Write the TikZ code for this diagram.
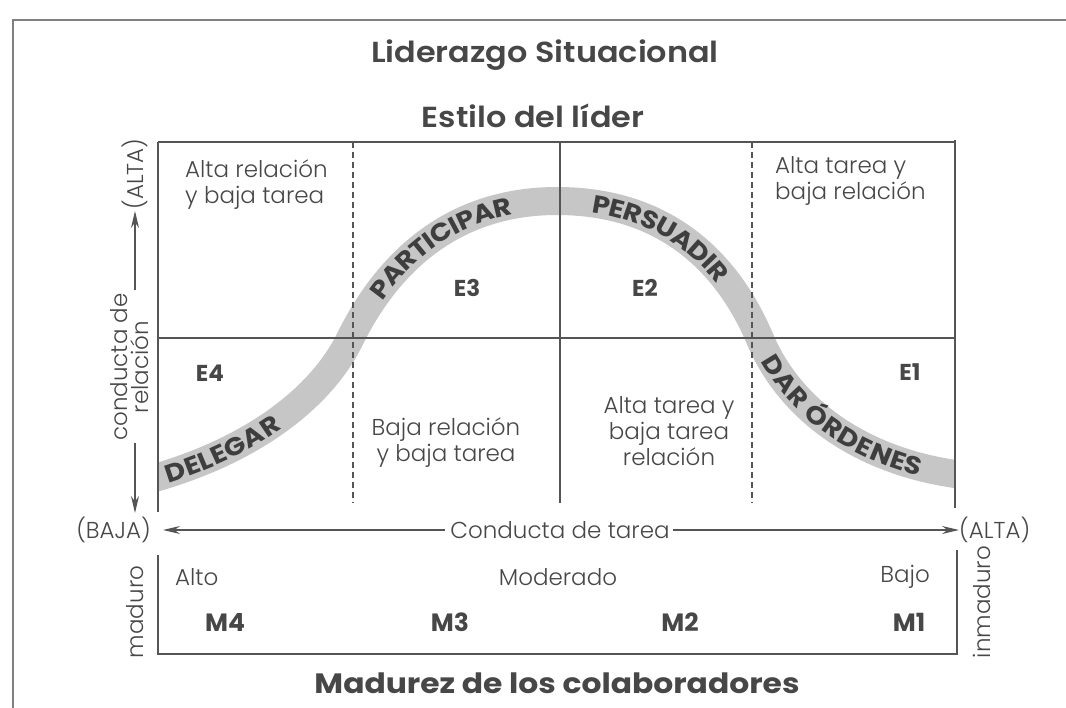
\documentclass[tikz,border=0pt]{standalone}
\usepackage{fontspec}
\usetikzlibrary{arrows.meta,decorations.text}
\IfFontExistsTF{Poppins Light}{\newfontfamily\bodyf{Poppins Light}}{\newfontfamily\bodyf{Poppins}}
\IfFontExistsTF{Poppins SemiBold}{\newfontfamily\semif{Poppins SemiBold}[FakeStretch=1.1]}{\newfontfamily\semif{Poppins}[FakeBold=1.5,FakeStretch=1.1]}
\IfFontExistsTF{Poppins Bold}{\newfontfamily\heavyf{Poppins Bold}}{\newfontfamily\heavyf{Poppins}[FakeBold=2.5]}
\IfFontExistsTF{Poppins Bold}{\newfontfamily\widef{Poppins Bold}[FakeStretch=1.12]}{\newfontfamily\widef{Poppins}[FakeBold=2.5,FakeStretch=1.12]}
\definecolor{ink}{HTML}{474747}
\definecolor{curveink}{HTML}{3E3E3E}
\definecolor{bandgray}{HTML}{C6C6C6}
\definecolor{rulegray}{HTML}{555555}
\tikzset{
  body/.style={font=\bodyf\fontsize{23}{26}\selectfont, text=ink, inner sep=0pt},
  head/.style={font=\semif\fontsize{29}{32}\selectfont, text=ink, inner sep=0pt},
  heavyhead/.style={font=\widef\fontsize{28}{30}\selectfont, text=ink, inner sep=0pt},
  elab/.style={font=\heavyf\fontsize{23}{26}\selectfont, text=ink, inner sep=0pt},
  mlab/.style={font=\heavyf\fontsize{25}{26}\selectfont, text=ink, inner sep=0pt},
  gridline/.style={draw=rulegray, line width=1.6pt},
  dashline/.style={draw=rulegray, line width=2pt, dash pattern=on 6pt off 4pt},
  frameline/.style={draw=gray, line width=1.2pt},
  axarrow/.style={draw=rulegray, line width=1.4pt, -{Stealth[length=17pt,width=8pt]}},
  curvetext/.style={decorate, decoration={text along path, raise=-9pt,
      text align={left, left indent=#1}}},
}
\newcommand{\cfmt}{|\widef\fontsize{25}{25}\selectfont\color{curveink}|}
\begin{document}
\begin{tikzpicture}[x=1pt,y=-1pt]
\useasboundingbox (0,0) rectangle (1066,708);
\fill[white] (0,0) rectangle (1066,708);
% outer frame
\coordinate (fTL) at (13,20);
\coordinate (fTR) at (1066,20);
\coordinate (fBL) at (13,708);
\draw[frameline] (fTR) -- (fTL) -- (fBL);

% titles
\node[head, anchor=base] (title) at (545,63) {Liderazgo Situacional};
\node[head, anchor=base] (estilo) at (533,128) {Estilo del líder};
\node[heavyhead, anchor=base] (madurez) at (557,693) {Madurez de los colaboradores};

% curve band
\coordinate (c0) at (158,477);
\coordinate (c1) at (350,339);
\coordinate (c2) at (557,201);
\coordinate (c3) at (760,339);
\coordinate (c4) at (955,474);
\coordinate (e0) at (130,485);
\coordinate (e4) at (983,478);
\begin{scope}
  \clip (158,0) rectangle (955,708);
  \draw[bandgray, line width=28pt] (e0) -- (c0) .. controls (250,450) and (320,400) .. (c1)
     .. controls (380,278) and (440,201) .. (c2)
     .. controls (680,201) and (735,280) .. (c3)
     .. controls (790,410) and (860,460) .. (c4) -- (e4);
\end{scope}

% grid
\draw[gridline] (158,142) -- (955,142);
\draw[gridline] (158,338) -- (955,338);
\draw[gridline] (158,142) -- (158,512);
\draw[gridline] (955,140) -- (955,508);
\draw[gridline] (560,142) -- (560,503);
\draw[dashline] (353,142) -- (353,503);
\draw[dashline] (752,142) -- (752,503);

% curve labels
\path[curvetext=8pt, decoration={text={\cfmt DELEGAR}}] (c0) .. controls (250,450) and (320,400) .. (c1);
\path[curvetext=50pt, decoration={text={\cfmt PARTICIPAR}}] (c1) .. controls (380,278) and (440,201) .. (c2);
\path[curvetext=36pt, decoration={text={\cfmt PERSUADIR}}] (c2) .. controls (680,201) and (735,280) .. (c3);
\path[curvetext=20pt, decoration={text={\cfmt DAR ÓRDENES}}] (c3) .. controls (790,410) and (860,460) .. (c4);

% quadrant texts
\node[body, align=left, anchor=west] (q1) at (185,185) {Alta relación\\y baja tarea};
\node[body, align=left, anchor=west] (q2) at (775,181) {Alta tarea y\\baja relación};
\node[body, align=center] (q3) at (446,443) {Baja relación\\y baja tarea};
\node[body, align=center] (q4) at (669,431) {Alta tarea y\\baja tarea\\relación};

% style labels
\node[elab] (e4l) at (210,373) {E4};
\node[elab] (e3l) at (467,288) {E3};
\node[elab] (e2l) at (645,288) {E2};
\node[elab] (e1l) at (910,372) {E1};

% left axis
\node[body, rotate=90] (altaV) at (135,174) {(ALTA)};
\node[body, rotate=90, align=center, font=\bodyf\fontsize{23}{21}\selectfont] (condrel) at (130,367) {conducta de\\relación};
\coordinate (upS) at (135,290);
\coordinate (upE) at (135,211);
\coordinate (dnS) at (135,443);
\coordinate (dnE) at (135,513);
\draw[axarrow] (upS) -- (upE);
\draw[axarrow] (dnS) -- (dnE);

% bottom axis
\node[body, anchor=east] (baja) at (151,530) {(BAJA)};
\node[body] (cond) at (560,530) {Conducta de tarea};
\node[body, anchor=west] (altaH) at (959,530) {(ALTA)};
\coordinate (lS) at (445,530);
\coordinate (lE) at (163,530);
\coordinate (rS) at (673,530);
\coordinate (rE) at (959,530);
\draw[axarrow] (lS) -- (lE);
\draw[axarrow] (rS) -- (rE);

% maturity box
\draw[gridline] (158,555) -- (158,654) -- (957,654) -- (957,550);
\node[body, rotate=90] (maduro) at (135,612) {maduro};
\node[body, rotate=90] (inmad) at (982,602) {inmaduro};
\node[body, anchor=west] (alto) at (175,577) {Alto};
\node[body] (mod) at (558,577) {Moderado};
\node[body, anchor=east] (bajo) at (930,577) {Bajo};
\node[mlab] (m4) at (225,622) {M4};
\node[mlab] (m3) at (450,622) {M3};
\node[mlab] (m2) at (680,622) {M2};
\node[mlab] (m1) at (909,622) {M1};
\end{tikzpicture}
\end{document}
